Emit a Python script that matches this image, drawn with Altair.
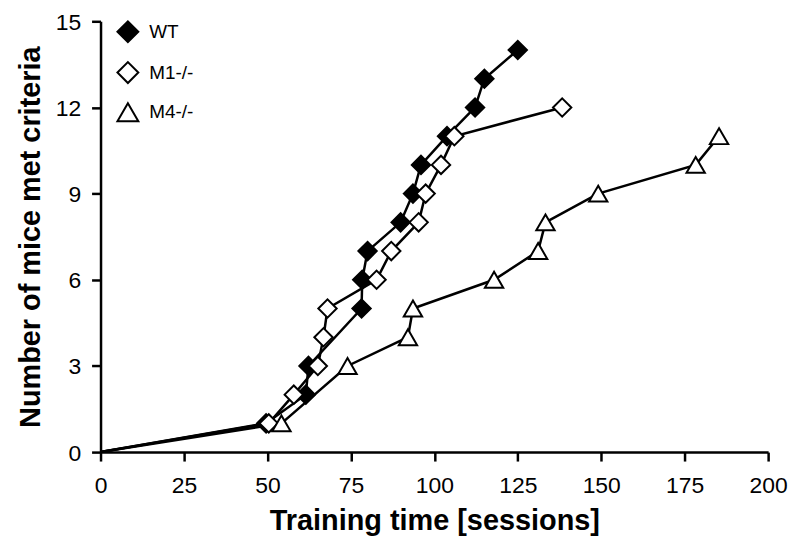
import altair as alt
import pandas as pd

series_names = ["WT", "M1-/-", "M4-/-"]

wt_x = [0, 49.6, 61.5, 62.3, 78.2, 78.4, 80, 89.9, 93.6, 96, 103.8, 112.2, 115, 125]
wt_y = [0, 1, 2, 3, 5, 6, 7, 8, 9, 10, 11, 12, 13, 14]

m1_x = [0, 50.4, 57.9, 65.1, 66.8, 68, 82.7, 87.1, 95.3, 97.4, 102, 106, 138.3]
m1_y = [0, 1, 2, 3, 4, 5, 6, 7, 8, 9, 10, 11, 12]

m4_x = [0, 54.2, 74, 92.1, 93.6, 117.9, 131.1, 133.3, 149.1, 178.3, 185.3]
m4_y = [0, 1, 3, 4, 5, 6, 7, 8, 9, 10, 11]

rows = []
for name, xs, ys in zip(series_names, [wt_x, m1_x, m4_x], [wt_y, m1_y, m4_y]):
    for i, (x, y) in enumerate(zip(xs, ys)):
        rows.append({"series": name, "x": x, "y": y, "idx": i})
df = pd.DataFrame(rows)
pts = df[df["x"] > 0]

x_enc = alt.X("x:Q", scale=alt.Scale(domain=[0, 200], nice=False),
              axis=alt.Axis(values=list(range(0, 201, 25)), title="Training time [sessions]",
                            labelPadding=14, titlePadding=9))
y_enc = alt.Y("y:Q", scale=alt.Scale(domain=[0, 15], nice=False),
              axis=alt.Axis(values=list(range(0, 16, 3)), title="Number of mice met criteria",
                            labelPadding=11, titlePadding=10, labelOffset=1))

lines = alt.Chart(df).mark_line(color="black", strokeWidth=2.5).encode(
    x=x_enc, y=y_enc,
    detail="series:N",
    order="idx:Q",
)

legend = alt.Legend(title=None, orient="none", legendX=16, legendY=-1, padding=0,
                    labelFontSize=19, labelFont="Liberation Sans", labelColor="black",
                    symbolSize=440, symbolStrokeWidth=2,
                    rowPadding=12, labelOffset=10)

points = alt.Chart(pts).mark_point(strokeWidth=2, opacity=1, size=340, filled=False).encode(
    x="x:Q", y="y:Q",
    shape=alt.Shape("series:N", sort=series_names,
                    scale=alt.Scale(domain=series_names, range=["diamond", "diamond", "triangle-up"]),
                    legend=legend),
    fill=alt.Fill("series:N", sort=series_names,
                  scale=alt.Scale(domain=series_names, range=["black", "white", "white"]),
                  legend=legend),
    stroke=alt.Stroke("series:N", sort=series_names,
                      scale=alt.Scale(domain=series_names, range=["black", "black", "black"]),
                      legend=legend),
)

chart = (lines + points).properties(
    width=671, height=433,
    autosize=alt.AutoSizeParams(type="none"),
    padding={"left": 93, "top": 12, "right": 24, "bottom": 90},
).configure_view(stroke=None).configure_axis(
    grid=False, labelFlush=False,
    domainColor="black", domainWidth=2.5,
    tickColor="black", tickWidth=2.5, tickSize=9,
    labelFont="Liberation Sans", labelFontSize=23, labelColor="black",
    titleFont="Liberation Sans", titleFontSize=29, titleFontWeight="bold", titleColor="black",
)

chart.save("out.html", embed_options={"renderer": "svg", "actions": False})
